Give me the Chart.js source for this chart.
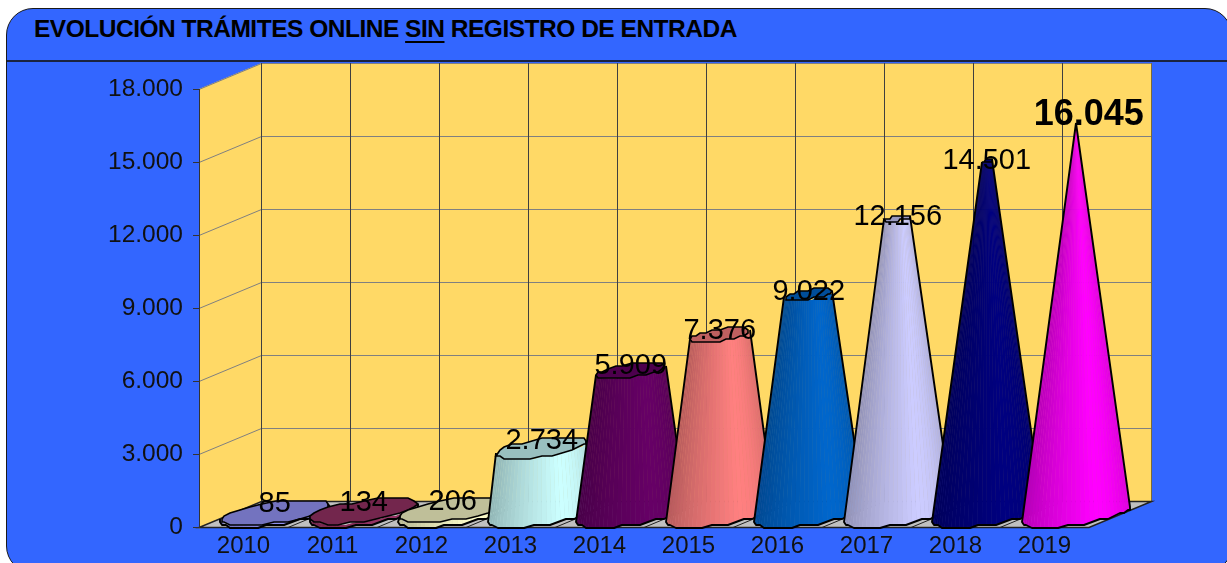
<!DOCTYPE html>
<html lang="es">
<head>
<meta charset="utf-8">
<title>Evolución trámites online sin registro de entrada</title>
<script src="https://cdn.jsdelivr.net/npm/chart.js@4/dist/chart.umd.min.js"></script>
<style>
  html, body { margin: 0; width: 1227px; height: 563px; overflow: hidden; background: #fff; }
  #panel {
    position: absolute; left: 6px; top: 8px; width: 1226px; height: 565px;
    background: #3366ff; border: 1.5px solid #1a1a1a; border-radius: 27px; box-sizing: border-box;
  }
  #rule { position: absolute; left: 7px; top: 60px; width: 1220px; height: 2px; background: #1a2340; }
  #title {
    position: absolute; left: 34px; top: 15px; white-space: nowrap; color: #000;
    font: bold 24.5px "Liberation Sans", Arial, sans-serif; letter-spacing: -0.49px;
  }
  #title u { text-decoration-thickness: 2px; text-underline-offset: 4px; }
  canvas { position: absolute; left: 0; top: 0; }
</style>
</head>
<body>
<div id="panel"></div>
<div id="rule"></div>
<div id="title">EVOLUCIÓN TRÁMITES ONLINE <u>SIN</u> REGISTRO DE ENTRADA</div>
<canvas id="chart" width="1227" height="563"></canvas>
<script>
const years = ["2010", "2011", "2012", "2013", "2014", "2015", "2016", "2017", "2018", "2019"];
const tramites = [85, 134, 206, 2734, 5909, 7376, 9022, 12156, 14501, 16045];
const barColors = ["#9999ff", "#993366", "#ffffcc", "#ccffff", "#660066", "#ff8080", "#0066cc", "#ccccff", "#000080", "#ff00ff"];
const axisMax = 18000;
const axisStep = 3000;

// profundidad del grafico 3D, en pixeles
const depthX = 62.5;
const depthY = 26;
const wallColor = "#ffd966";
const floorColor = "#c0c0c0";
const font = "'Liberation Sans', Arial, sans-serif";

const miles = (v) => String(v).replace(/\B(?=(\d{3})+(?!\d))/g, ".");

function shade(hex, k) {
  const n = parseInt(hex.slice(1), 16);
  const c = [(n >> 16) & 255, (n >> 8) & 255, n & 255].map((x) => Math.round(x * k));
  return `rgb(${c[0]},${c[1]},${c[2]})`;
}

// luz de izquierda a derecha del cono
function light(p) {
  if (p < 0.68) return 0.7 + 0.3 * Math.pow(p / 0.68, 0.8);
  return 1 - 0.14 * Math.pow((p - 0.68) / 0.32, 2);
}

function polyPath(ctx, pts) {
  ctx.beginPath();
  pts.forEach((p, i) => (i ? ctx.lineTo(p[0], p[1]) : ctx.moveTo(p[0], p[1])));
}

const wallsPlugin = {
  id: "walls",
  beforeDraw(chart) {
    const { ctx, scales } = chart;
    const x = scales.x;
    const y = scales.y;
    const y0 = y.getPixelForValue(0);
    const yTop = y.getPixelForValue(axisMax);
    const cell = (x.right - x.left) / years.length;
    ctx.save();

    // pared lateral y pared del fondo
    ctx.fillStyle = wallColor;
    polyPath(ctx, [[x.left, yTop], [x.left + depthX, yTop - depthY], [x.right + depthX, yTop - depthY],
      [x.right + depthX, y0 - depthY], [x.left + depthX, y0 - depthY], [x.left, y0]]);
    ctx.closePath();
    ctx.fill();

    // lineas horizontales
    ctx.lineWidth = 1;
    ctx.strokeStyle = "#808080";
    y.ticks.forEach((t) => {
      const py = Math.round(y.getPixelForValue(t.value)) + 0.5;
      ctx.beginPath();
      ctx.moveTo(x.left, py);
      ctx.lineTo(x.left + depthX, py - depthY);
      ctx.lineTo(x.right + depthX, py - depthY);
      ctx.stroke();
    });

    // lineas verticales del fondo
    for (let i = 0; i <= years.length; i++) {
      const px = Math.round(x.left + depthX + i * cell) - 0.5;
      ctx.strokeStyle = i === years.length ? "#7a6a3a" : "#3f3f3f";
      ctx.beginPath();
      ctx.moveTo(px, yTop - depthY);
      ctx.lineTo(px, y0 - depthY);
      ctx.stroke();
    }

    // suelo
    ctx.fillStyle = floorColor;
    polyPath(ctx, [[x.left, y0], [x.right, y0], [x.right + depthX, y0 - depthY], [x.left + depthX, y0 - depthY]]);
    ctx.closePath();
    ctx.fill();
    ctx.strokeStyle = "#222";
    ctx.lineWidth = 1.5;
    ctx.stroke();
    ctx.lineWidth = 1;
    for (let i = 1; i < years.length; i++) {
      ctx.beginPath();
      ctx.moveTo(x.left + i * cell, y0);
      ctx.lineTo(x.left + i * cell + depthX, y0 - depthY);
      ctx.stroke();
    }
    ctx.restore();
  },
};

const conePlugin = {
  id: "cones",
  beforeDatasetDraw(chart, args) {
    const { ctx, scales } = chart;
    const x = scales.x;
    const y = scales.y;
    const y0 = y.getPixelForValue(0);
    const peak = Math.max(...tramites);
    const apexH = y0 - y.getPixelForValue(peak);
    const cell = (x.right - x.left) / years.length;
    const ax = cell / 2;
    const bx = depthX / 2;
    const by = depthY / 2;

    // puntos tangentes desde el vertice del cono
    const va = apexH / by;
    const ua = (-bx * va) / ax;
    const phi = Math.atan2(va, ua);
    const off = Math.acos(1 / Math.hypot(ua, va));
    const tStart = phi + off;
    const tEnd = phi + 2 * Math.PI - off;

    args.meta.data.forEach((el, i) => {
      const color = barColors[i];
      const h = y0 - el.y;
      const frac = 1 - tramites[i] / peak;
      const cx = el.x + bx;
      const cy = y0 - by;
      const smooth = (t, f, lift) => [
        cx + f * (ax * Math.cos(t) + bx * Math.sin(t)),
        cy - f * by * Math.sin(t) - lift,
      ];
      // el contorno original va a saltos, se redondea a una rejilla gruesa
      const lumpy = (t, f, lift) => {
        const p = smooth(t, f, lift);
        return [Math.round(p[0] / 2) * 2, Math.round(p[1] / 3) * 3];
      };
      const arc = (fn, f, lift, steps) => {
        const pts = [];
        for (let k = 0; k <= steps; k++) pts.push(fn(tStart + ((tEnd - tStart) * k) / steps, f, lift));
        return pts;
      };

      const outlineLow = arc(lumpy, 1, 0, 20);
      const outlineHigh = arc(lumpy, frac, h, 20);
      const facets = 36;
      const lowArc = arc(smooth, 1, 0, facets);
      const highArc = arc(smooth, frac, h, facets);
      const minX = Math.min(...lowArc.map((p) => p[0]));
      const maxX = Math.max(...lowArc.map((p) => p[0]));
      const silhouette = [outlineHigh[0], ...outlineLow, outlineHigh[20]];

      ctx.save();
      ctx.save();
      polyPath(ctx, [...outlineLow, ...outlineHigh.slice().reverse()]);
      ctx.closePath();
      ctx.clip();
      // fondo casi opaco: las juntas entre facetas quedan tenues
      ctx.globalAlpha = 0.8;
      ctx.fillStyle = shade(color, 0.88);
      ctx.fill();
      ctx.globalAlpha = 1;
      for (let k = 0; k < facets; k++) {
        const mid = (lowArc[k][0] + lowArc[k + 1][0]) / 2;
        ctx.fillStyle = shade(color, light((mid - minX) / (maxX - minX)));
        polyPath(ctx, [lowArc[k], lowArc[k + 1], highArc[k + 1], highArc[k]]);
        ctx.closePath();
        ctx.fill();
      }
      ctx.restore();

      // tapa superior
      if (frac > 0.001) {
        const lid = [];
        for (let k = 0; k < 26; k++) lid.push(lumpy((k / 26) * 2 * Math.PI, frac, h));
        ctx.fillStyle = shade(color, 0.75);
        polyPath(ctx, lid);
        ctx.closePath();
        ctx.fill();
        ctx.strokeStyle = "#000";
        ctx.lineWidth = 1.6;
        ctx.stroke();
      }

      // silueta
      ctx.strokeStyle = "#000";
      ctx.lineWidth = 1.9;
      ctx.lineJoin = "round";
      polyPath(ctx, silhouette);
      ctx.stroke();
      ctx.restore();
    });
    return false;
  },
  afterDatasetsDraw(chart) {
    const { ctx } = chart;
    const peak = Math.max(...tramites);
    const meta = chart.getDatasetMeta(0);
    ctx.save();
    ctx.fillStyle = "#000";
    ctx.textAlign = "center";
    ctx.textBaseline = "middle";
    meta.data.forEach((el, i) => {
      const isPeak = tramites[i] === peak;
      const topY = el.y - depthY / 2;
      const lx = el.x + depthX / 2 + (isPeak ? 13 : 0);
      const ly = topY - (isPeak ? 10 : 9 * (1 - tramites[i] / peak));
      ctx.font = isPeak ? `bold 36px ${font}` : `29px ${font}`;
      ctx.fillText(miles(tramites[i]), lx, ly + 1);
    });
    ctx.restore();
  },
};

new Chart(document.getElementById("chart"), {
  type: "bar",
  data: {
    labels: years,
    datasets: [
      {
        label: "Trámites online sin registro de entrada",
        data: tramites,
        backgroundColor: barColors,
        barPercentage: 1,
        categoryPercentage: 1,
      },
    ],
  },
  options: {
    responsive: false,
    animation: false,
    layout: { padding: { left: 0, right: 138, top: 89, bottom: 0 } },
    plugins: { legend: { display: false }, tooltip: { enabled: false } },
    scales: {
      x: {
        afterFit: (s) => { s.height = 35.5; },
        grid: { display: false, drawTicks: false },
        border: { display: false },
        ticks: {
          color: "#111",
          font: { family: font, size: 24 },
          maxRotation: 0,
          padding: 4,
        },
      },
      y: {
        min: 0,
        max: axisMax,
        afterFit: (s) => { s.width = 199; },
        grid: { drawOnChartArea: false, color: "#333", tickLength: 6 },
        border: { color: "#333" },
        ticks: {
          stepSize: axisStep,
          color: "#111",
          font: { family: font, size: 24.5 },
          padding: 10,
          callback: (v) => miles(v),
        },
      },
    },
  },
  plugins: [wallsPlugin, conePlugin],
});
</script>
</body>
</html>
